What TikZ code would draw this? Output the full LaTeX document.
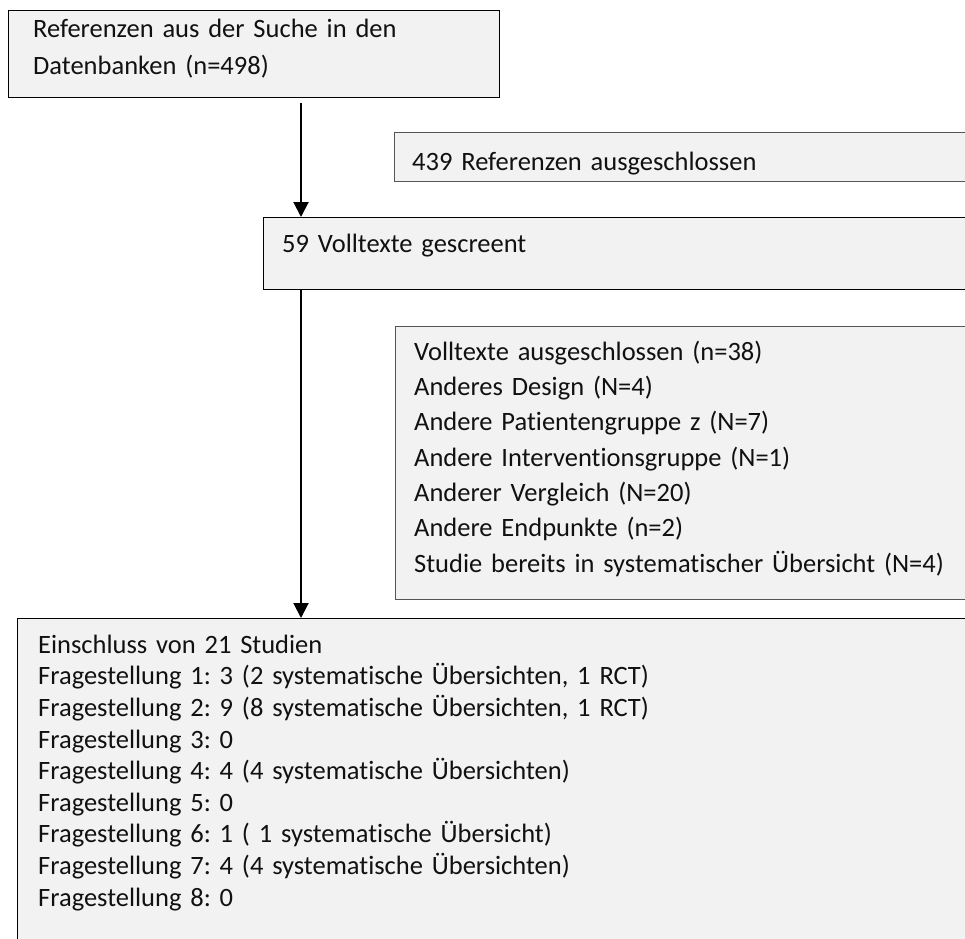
\documentclass[tikz,border=0pt]{standalone}
\usepackage{fontspec}
\setmainfont[Ligatures={NoCommon}]{Carlito}
\usetikzlibrary{arrows.meta}
\definecolor{boxfill}{HTML}{F2F2F2}
\definecolor{edgegray}{HTML}{555555}
\definecolor{inkcol}{HTML}{111111}
\frenchspacing
\begin{document}
\begin{tikzpicture}[x=1pt,y=-1pt,
  box/.style={draw=black, line width=1.3pt, fill=boxfill, rectangle, inner sep=0pt, anchor=north west},
  graybox/.style={box, draw=edgegray},
  txt/.style={anchor=north west, inner sep=0pt, align=left, text width=900pt, text=inkcol},
  flow/.style={line width=2pt, -{Triangle[width=15pt,length=15pt]}}]
\clip (0,0) rectangle (965,938);
\fill[white] (0,0) rectangle (965,938);
% boxes
\node[box, minimum width=491pt, minimum height=87pt] (b1) at (8,10) {};
\node[graybox, minimum width=620pt, minimum height=49pt] (b2) at (394,132) {};
\node[box, minimum width=740pt, minimum height=72pt] (b3) at (263,217) {};
\node[graybox, minimum width=620pt, minimum height=273pt] (b4) at (395,326) {};
\node[box, minimum width=990pt, minimum height=360pt] (b5) at (17,618) {};
% texts
\node[txt, font=\fontsize{26.5}{37.5}\selectfont] (t1) at (33,10.75)
  {\strut Referenzen aus der Suche in den\\Datenbanken (n=498)};
\node[txt, font=\fontsize{26.5}{35.3}\selectfont] (t2) at (412,145.3)
  {\strut 439 Referenzen ausgeschlossen};
\node[txt, font=\fontsize{26.5}{35.3}\selectfont] (t3) at (282,227.3)
  {\strut 59 Volltexte gescreent};
\node[txt, font=\fontsize{26.5}{35.3}\selectfont] (t4) at (414,335.3)
  {\strut Volltexte ausgeschlossen (n=38)\\
   Anderes Design (N=4)\\
   Andere Patientengruppe z (N=7)\\
   Andere Interventionsgruppe (N=1)\\
   Anderer Vergleich (N=20)\\
   Andere Endpunkte (n=2)\\
   Studie bereits in systematischer Übersicht (N=4)};
\node[txt, font=\fontsize{26.5}{31.6}\selectfont] (t5) at (38,631)
  {\strut Einschluss von 21 Studien\\
   Fragestellung 1: 3 (2 systematische Übersichten, 1 RCT)\\
   Fragestellung 2: 9 (8 systematische Übersichten, 1 RCT)\\
   Fragestellung 3: 0\\
   Fragestellung 4: 4 (4 systematische Übersichten)\\
   Fragestellung 5: 0\\
   Fragestellung 6: 1 ( 1 systematische Übersicht)\\
   Fragestellung 7: 4 (4 systematische Übersichten)\\
   Fragestellung 8: 0};
% connectors
\coordinate (a1s) at (301,103);
\draw[flow] (a1s) -- (b3.north -| a1s);
\draw[flow] (b3.south -| a1s) -- (b5.north -| a1s);
\end{tikzpicture}
\end{document}
